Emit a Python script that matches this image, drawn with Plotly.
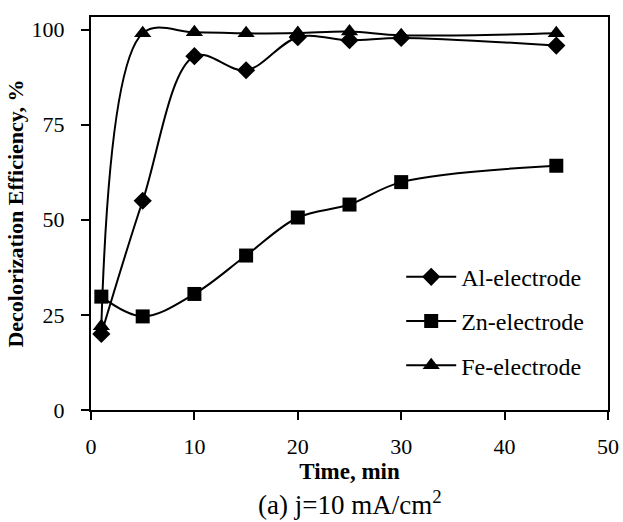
import plotly.graph_objects as go

time_min = [1, 5, 10, 15, 20, 25, 30, 45]
al_eff = [20.0, 55.0, 93.0, 89.3, 98.0, 97.2, 97.8, 95.8]
zn_eff = [29.8, 24.6, 30.5, 40.6, 50.6, 54.0, 59.9, 64.2]
fe_eff = [22.0, 99.0, 99.3, 99.0, 99.1, 99.5, 98.5, 99.0]

series = [
    ("Al-electrode", al_eff, "diamond", 14),
    ("Zn-electrode", zn_eff, "square", 14),
    ("Fe-electrode", fe_eff, "triangle-up", 15),
]

FONT = "Liberation Serif"

fig = go.Figure()
for i, (name, vals, sym, sz) in enumerate(series):
    fig.add_trace(go.Scatter(
        x=time_min, y=vals, name=name, mode="lines+markers",
        line=dict(color="black", width=2, shape="spline", smoothing=1),
        marker=dict(symbol=sym, size=sz, color="black"),
        legendgroup=f"g{i}",
    ))

fig.update_layout(
    width=623, height=522,
    margin=dict(l=91, r=15, t=17, b=112),
    paper_bgcolor="white", plot_bgcolor="white",
    font=dict(family=FONT, size=22, color="black"),
    showlegend=True,
    legend=dict(x=0.6, y=0.226, xanchor="left", yanchor="middle",
                bgcolor="rgba(0,0,0,0)", font=dict(family=FONT, size=24),
                tracegroupgap=10, itemwidth=50),
    xaxis=dict(range=[0, 50], tickvals=[0, 10, 20, 30, 40, 50],
               showgrid=False, zeroline=False, showline=True, linecolor="black",
               linewidth=2, mirror=True, ticks="outside", ticklen=8,
               tickwidth=2, tickcolor="black", automargin=False,
               ticklabelstandoff=8, tickfont=dict(family=FONT, size=22),
               title=dict(text="<b>Time, min</b>", standoff=0,
                          font=dict(family=FONT, size=23))),
    yaxis=dict(range=[0, 103.3], tickvals=[0, 25, 50, 75, 100],
               showgrid=False, zeroline=False, showline=True, linecolor="black",
               linewidth=2, mirror=True, ticks="outside", ticklen=8,
               tickwidth=2, tickcolor="black", ticklabelstandoff=12,
               automargin=False, tickfont=dict(family=FONT, size=22),
               title=dict(text="<b>Decolorization Efficiency, %</b>", standoff=2,
                          font=dict(family=FONT, size=22))),
    annotations=[dict(text="(a) j=10 mA/cm<sup>2</sup>", xref="paper", yref="paper",
                      x=0.5, y=-0.237, xanchor="center", yanchor="middle",
                      showarrow=False, font=dict(family=FONT, size=27))],
)

fig.write_html("out.html")
